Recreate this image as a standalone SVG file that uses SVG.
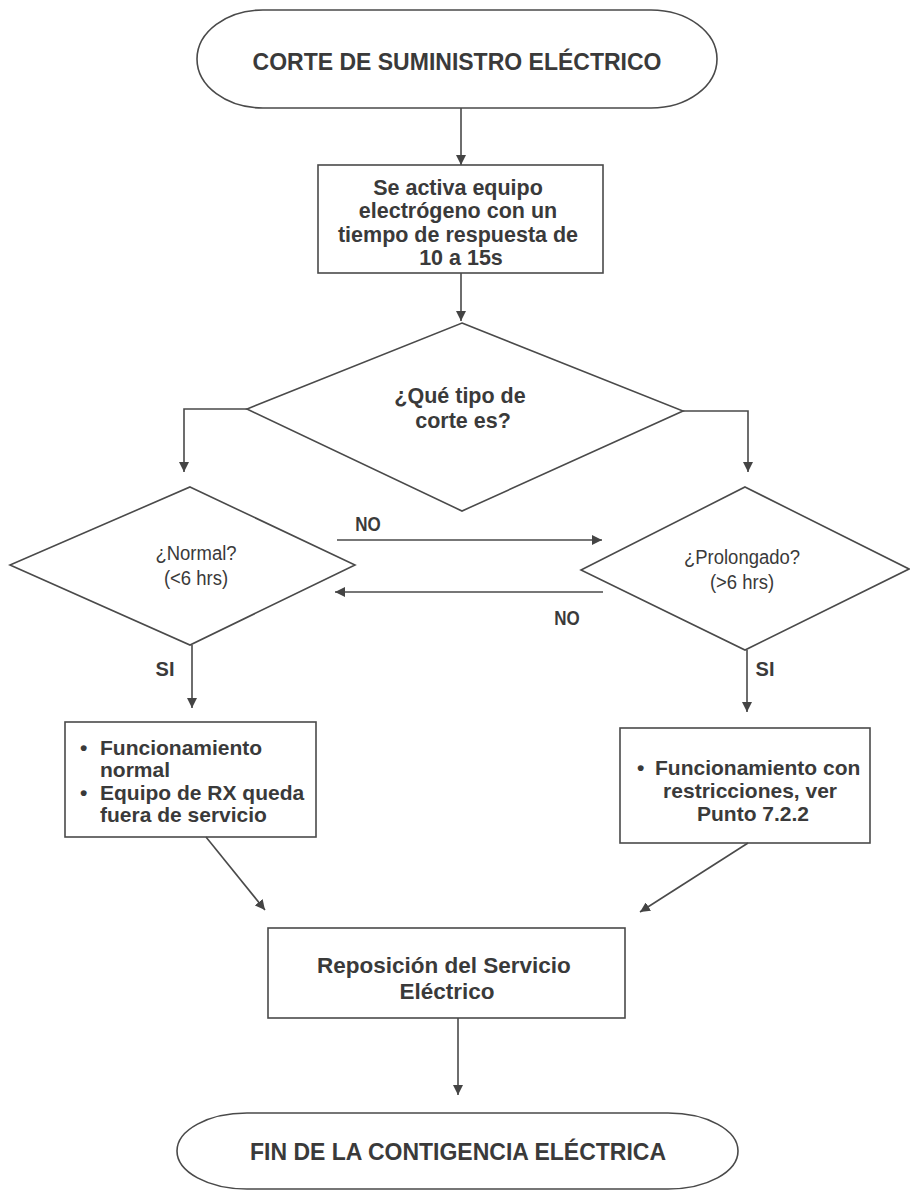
<svg xmlns="http://www.w3.org/2000/svg" width="910" height="1191" viewBox="0 0 910 1191">
<defs>
<marker id="ah" viewBox="0 0 10 10" refX="10" refY="5" markerWidth="10" markerHeight="10" markerUnits="userSpaceOnUse" orient="auto">
<path d="M0,0 L10,5 L0,10 z" fill="#444"/>
</marker>
<style>
.shape{fill:none;stroke:#4a4a4a;stroke-width:1.6}
.conn{fill:none;stroke:#4a4a4a;stroke-width:1.6;marker-end:url(#ah)}
.t{font-family:"Liberation Sans",Arial,sans-serif;font-weight:bold;fill:#3a3a3a;text-anchor:middle}
.tl{font-family:"Liberation Sans",Arial,sans-serif;font-weight:bold;fill:#3a3a3a;text-anchor:start}
.n{font-family:"Liberation Sans",Arial,sans-serif;fill:#3a3a3a;text-anchor:middle}
</style>
</defs>
<rect width="910" height="1191" fill="#ffffff"/>

<g id="connectors">
<line class="conn" x1="461" y1="108" x2="461" y2="165"/>
<line class="conn" x1="461" y1="273" x2="461" y2="321"/>
<polyline class="conn" points="247,409 184,409 184,472"/>
<polyline class="conn" points="683,411 748,411 748,472"/>
<line class="conn" x1="337" y1="540" x2="602" y2="540"/>
<line class="conn" x1="603" y1="592" x2="335" y2="592"/>
<line class="conn" x1="192" y1="645" x2="192" y2="708"/>
<line class="conn" x1="747" y1="650" x2="747" y2="712"/>
<line class="conn" x1="206" y1="837" x2="265" y2="910"/>
<line class="conn" x1="748" y1="843" x2="640" y2="912"/>
<line class="conn" x1="458" y1="1018" x2="458" y2="1095"/>
<text class="t" x="368" y="531" font-size="20" transform="translate(368,0) scale(0.85,1) translate(-368,0)">NO</text>
<text class="t" x="567" y="625" font-size="20" transform="translate(567,0) scale(0.85,1) translate(-567,0)">NO</text>
<text class="t" x="165" y="676" font-size="20">SI</text>
<text class="t" x="765" y="676" font-size="20">SI</text>
</g>

<g id="start">
<rect class="shape" x="197" y="10" width="520" height="98" rx="66" ry="49"/>
<text class="t" x="457" y="70" font-size="23">CORTE DE SUMINISTRO ELÉCTRICO</text>
</g>

<g id="generator">
<rect class="shape" x="318" y="165" width="285" height="108"/>
<text class="t" font-size="21.5">
<tspan x="461" y="195">Se activa equipo</tspan>
<tspan x="461" y="218">electrógeno con un</tspan>
<tspan x="461" y="242">tiempo de respuesta de</tspan>
<tspan x="461" y="265">10 a 15s</tspan>
</text>
</g>

<g id="decision-type">
<polygon class="shape" points="462,323 683,411 462,511 247,409"/>
<text class="t" font-size="21.5">
<tspan x="463" y="403">¿Qué tipo de</tspan>
<tspan x="463" y="428">corte es?</tspan>
</text>
</g>

<g id="decision-normal">
<polygon class="shape" points="190,487 355,565 190,645 10,565"/>
<g transform="translate(196,0) scale(0.88,1)">
<text class="n" font-size="21" x="0" y="560">¿Normal?</text>
<text class="n" font-size="21" x="0" y="585">(&lt;6 hrs)</text>
</g>
</g>

<g id="decision-prolonged">
<polygon class="shape" points="745,487 909,569 745,650 581,570"/>
<g transform="translate(742,0) scale(0.88,1)">
<text class="n" font-size="21" x="0" y="564">¿Prolongado?</text>
<text class="n" font-size="21" x="0" y="589">(&gt;6 hrs)</text>
</g>
</g>

<g id="normal-operation">
<rect class="shape" x="65" y="722" width="251" height="115"/>
<text class="tl" font-size="21">
<tspan x="80" y="755">•</tspan>
<tspan x="100" y="755">Funcionamiento</tspan>
<tspan x="100" y="777">normal</tspan>
<tspan x="80" y="800">•</tspan>
<tspan x="100" y="800">Equipo de RX queda</tspan>
<tspan x="100" y="822">fuera de servicio</tspan>
</text>
</g>

<g id="restricted-operation">
<rect class="shape" x="620" y="728" width="250" height="115"/>
<text class="tl" font-size="21">
<tspan x="637" y="775">•</tspan>
<tspan x="655" y="775">Funcionamiento con</tspan>
</text>
<text class="t" font-size="21">
<tspan x="753" y="798">restricciones, ver</tspan>
<tspan x="753" y="821">Punto 7.2.2</tspan>
</text>
</g>

<g id="restore">
<rect class="shape" x="268" y="928" width="357" height="90"/>
<text class="t" font-size="22.5">
<tspan x="447" y="973">Reposición del Servicio</tspan>
<tspan x="447" y="999">Eléctrico</tspan>
</text>
</g>

<g id="end">
<rect class="shape" x="177" y="1113" width="561" height="76" rx="70" ry="38"/>
<text class="t" x="458" y="1160" font-size="23">FIN DE LA CONTIGENCIA ELÉCTRICA</text>
</g>
</svg>
